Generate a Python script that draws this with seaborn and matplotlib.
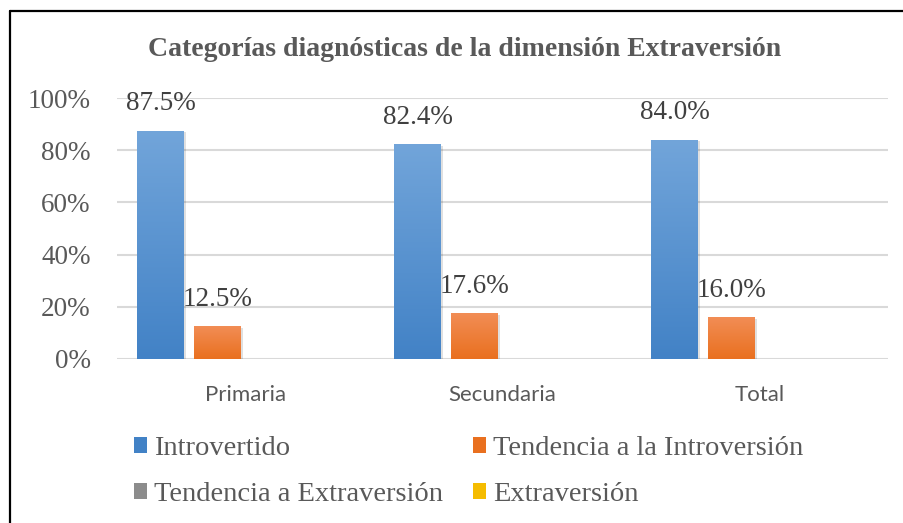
import matplotlib

matplotlib.use("Agg")
import matplotlib.pyplot as plt
import numpy as np
import pandas as pd
import seaborn as sns
from matplotlib.colors import LinearSegmentedColormap
from matplotlib.lines import Line2D
from matplotlib.patches import Patch, Rectangle

# --- data ---
grupos = ["Primaria", "Secundaria", "Total"]
categorias = ["Introvertido", "Tendencia a la Introversión",
              "Tendencia a Extraversión", "Extraversión"]
introvertido = [87.5, 82.4, 84.0]
tend_introversion = [12.5, 17.6, 16.0]
tend_extraversion = [0.0, 0.0, 0.0]
extraversion = [0.0, 0.0, 0.0]
titulo = "Categorías diagnósticas de la dimensión Extraversión"

series = [introvertido, tend_introversion, tend_extraversion, extraversion]
df = pd.DataFrame({
    "grupo": np.repeat([grupos], len(categorias), axis=0).ravel(),
    "categoria": np.repeat(categorias, len(grupos)),
    "valor": np.concatenate(series),
})

# top / bottom of the Excel-style gradient per series
grad = {
    "Introvertido": ("#72a5da", "#4282c6"),
    "Tendencia a la Introversión": ("#f28d55", "#e9701f"),
    "Tendencia a Extraversión": ("#b5b5b5", "#8c8c8c"),
    "Extraversión": ("#ffd54d", "#f5bc00"),
}
palette = {k: v[1] for k, v in grad.items()}

sns.set_theme(style="white")
plt.rcParams["font.family"] = ["Liberation Serif", "DejaVu Serif"]
GRIS = "#595959"

fig = plt.figure(figsize=(9.04, 5.23), dpi=100)
ax = fig.add_axes([117 / 904, 1 - 359 / 523, 771 / 904, 261 / 523])

sns.barplot(data=df, x="grupo", y="valor", hue="categoria", order=grupos,
            hue_order=categorias, palette=palette, width=0.88, gap=0.17,
            linewidth=0, saturation=1, ax=ax, legend=False)

ax.set_xlim(-0.5, 2.5)
ax.set_ylim(0, 100)
ax.set_yticks(range(0, 101, 20))
ax.set_yticklabels([f"{v}%" for v in range(0, 101, 20)])
ax.yaxis.grid(True, color="#d9d9d9", linewidth=1.5)
ax.set_axisbelow(True)
for s in ax.spines.values():
    s.set_visible(False)
ax.set_xlabel("")
ax.set_ylabel("")
ax.tick_params(axis="y", length=0, pad=19, labelsize=19.5, labelcolor=GRIS)
ax.tick_params(axis="x", length=0, pad=19, labelsize=16, labelcolor=GRIS)
for lab in ax.get_xticklabels():
    lab.set_fontfamily("Lato")

# gradient fill + soft shadow + data labels
for cont, cat in zip(ax.containers, categorias):
    top, bot = grad[cat]
    cmap = LinearSegmentedColormap.from_list(cat, [bot, top])
    for bar in cont:
        h = bar.get_height()
        if h <= 0:
            continue
        x0, w = bar.get_x(), bar.get_width()
        ax.add_patch(Rectangle((x0 + 0.008, -0.6), w, h, color="#000000",
                               alpha=0.12, linewidth=0, zorder=1.5))
        g = np.linspace(0, 1, 256).reshape(-1, 1)
        im = ax.imshow(g, cmap=cmap, origin="lower", aspect="auto",
                       extent=(x0, x0 + w, 0, h), zorder=2.5)
        im.set_clip_path(bar)
        ax.text(x0 + w / 2, h + 5.5, f"{h:.1f}%", ha="center", va="bottom",
                fontsize=19.5, color="#404040", zorder=4)
ax.set_xlim(-0.5, 2.5)
ax.set_ylim(0, 100)

fig.text(0.514, 0.906, titulo, ha="center", va="center", fontsize=20,
         fontweight="bold", color=GRIS)

handles = [Patch(facecolor=palette[c], edgecolor="none") for c in categorias]
order = [0, 2, 1, 3]
leg = fig.legend([handles[i] for i in order], [categorias[i] for i in order],
                 ncol=2, loc="upper left", bbox_to_anchor=(134 / 904, 1 - 436 / 523),
                 frameon=False, fontsize=20.5, handlelength=0.45, handleheight=0.45,
                 handletextpad=0.25, columnspacing=1.05, labelspacing=0.74,
                 borderpad=0, borderaxespad=0, labelcolor=GRIS)

# outer frame of the cropped chart (left and top edges only)
fig.add_artist(Line2D([10 / 904, 10 / 904], [0, 1 - 11 / 523], color="black",
                      linewidth=1.6, transform=fig.transFigure))
fig.add_artist(Line2D([10 / 904, 1], [1 - 11 / 523, 1 - 11 / 523], color="black",
                      linewidth=1.6, transform=fig.transFigure))

fig.savefig("out.png", dpi=100)
